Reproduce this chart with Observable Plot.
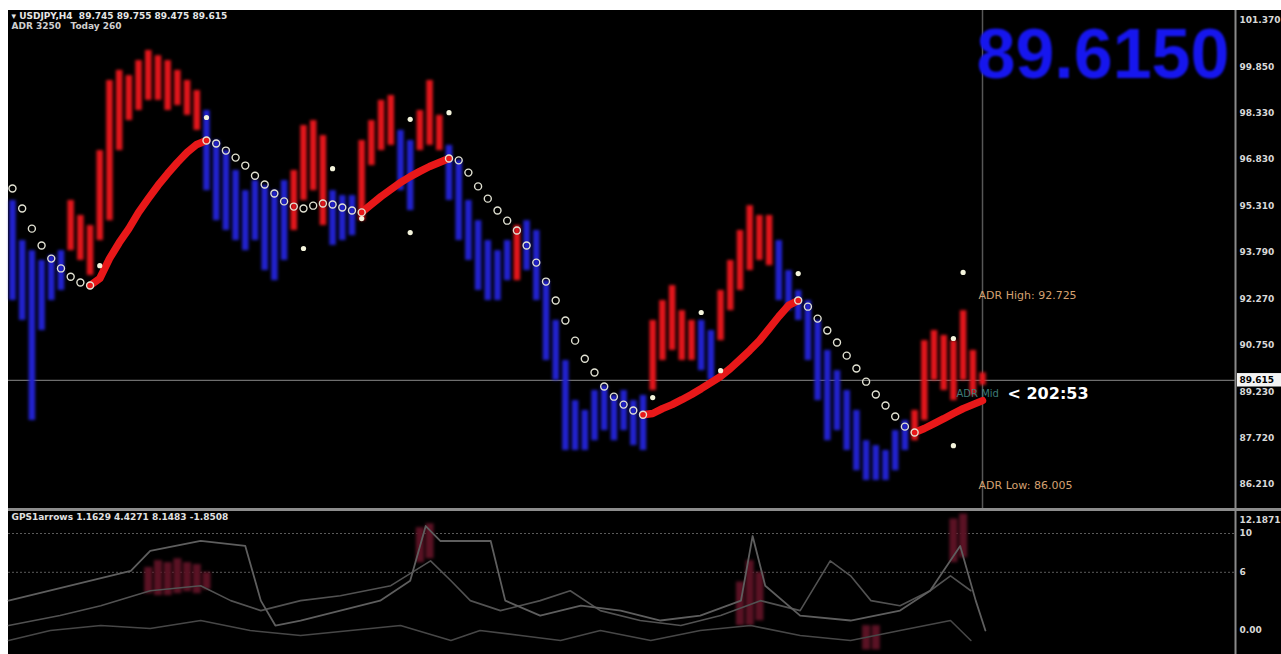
<!DOCTYPE html>
<html>
<head>
<meta charset="utf-8">
<script src="https://cdn.jsdelivr.net/npm/d3@7"></script>
<script src="https://cdn.jsdelivr.net/npm/@observablehq/plot@0.6"></script>
<style>
html,body{margin:0;padding:0;background:#fff;overflow:hidden;width:1281px;height:654px}
#wrap{position:absolute;left:8px;top:10px;width:1273px;height:644px;background:#000}
#sep{height:3px;background:#8c8c8c}
svg{display:block}
</style>
</head>
<body>
<div id="wrap"></div>
<script>
// ---------- price panel data (USDJPY H4) ----------
const barHigh = [95.49,94.18,93.85,93.53,93.69,93.85,95.49,95.00,94.67,97.12,
  99.41,99.74,99.57,100.06,100.39,100.22,100.06,99.74,99.41,99.08,
  98.43,97.45,97.12,96.47,95.81,96.14,95.98,95.81,96.14,96.47,
  97.94,98.10,97.61,95.81,95.65,95.65,97.45,98.10,98.76,98.92,
  97.78,97.45,98.43,99.41,98.27,97.29,96.80,95.49,94.83,94.18,
  93.85,94.18,94.67,94.83,94.51,92.87,91.57,90.26,88.95,88.63,
  89.28,89.44,89.12,89.28,88.95,89.12,91.57,92.22,92.71,91.89,
  91.57,91.57,91.24,92.55,93.53,94.51,95.32,95.00,95.00,94.18,
  93.20,92.55,92.22,91.57,90.59,89.93,89.28,88.63,87.64,87.48,
  87.32,87.97,88.30,88.63,90.91,91.24,91.08,90.91,91.89,90.59,
  89.86];
const barLow = [92.22,91.57,88.30,91.24,92.22,92.55,93.85,93.53,93.04,94.18,
  94.83,97.12,98.10,98.43,98.76,98.76,98.43,98.59,98.27,97.78,
  95.81,94.83,94.51,94.18,93.85,94.18,93.20,92.87,93.53,94.51,
  95.49,95.81,94.67,94.02,94.18,94.34,94.83,96.63,97.12,97.29,
  95.81,95.16,97.12,97.29,97.12,95.49,94.18,93.53,92.55,92.22,
  92.22,92.87,92.87,93.20,92.22,90.26,89.61,87.32,87.32,87.32,
  87.64,87.97,87.64,87.97,87.48,87.32,89.28,90.26,90.59,90.26,
  90.26,89.93,89.61,90.91,91.89,92.55,93.20,93.53,93.36,92.22,
  91.89,91.57,90.26,88.95,87.64,87.97,87.32,86.66,86.34,86.34,
  86.34,86.66,87.32,87.64,88.30,89.61,89.28,88.95,89.61,89.12,
  89.45];
// 1 = up (red) bar, 0 = down (blue) bar
const barUp = [0,0,0,0,0,0,1,1,1,1, 1,1,1,1,1,1,1,1,1,1,
  0,0,0,0,0,0,0,0,0,1, 1,1,1,0,0,0,1,1,1,1,
  0,0,1,1,1,0,0,0,0,0, 0,0,1,0,0,0,0,0,0,0,
  0,0,0,0,0,0,1,1,1,1, 1,0,0,1,1,1,1,1,1,0,
  0,0,0,0,0,0,0,0,0,0, 0,0,0,1,1,1,1,1,1,1, 1];
const maValue = [95.88,95.23,94.57,94.02,93.59,93.27,93.00,92.81,92.71,92.94,
  93.59,94.11,94.57,95.10,95.55,95.98,96.37,96.73,97.06,97.32,
  97.45,97.35,97.12,96.89,96.63,96.30,96.01,95.72,95.46,95.29,
  95.23,95.32,95.39,95.36,95.26,95.16,95.10,95.36,95.62,95.85,
  96.08,96.27,96.44,96.60,96.73,96.86,96.80,96.40,95.95,95.55,
  95.16,94.83,94.51,94.02,93.46,92.84,92.22,91.57,90.91,90.32,
  89.87,89.41,89.08,88.82,88.63,88.49,88.53,88.69,88.82,88.98,
  89.15,89.34,89.54,89.74,90.00,90.29,90.59,90.91,91.30,91.70,
  92.06,92.22,92.02,91.63,91.24,90.85,90.42,90.00,89.57,89.15,
  88.79,88.43,88.10,87.91,88.04,88.20,88.36,88.53,88.69,88.82,88.95];
const trendTurns = [8, 20, 36, 45, 65, 81, 93]; // first trend is down
const signalIndex = [9, 20, 30, 33, 36, 41, 41, 45, 66, 71, 73, 81, 97, 97, 98];
const signalPrice = [93.36, 98.20, 93.92, 96.53, 94.90, 98.14, 94.44, 98.36, 89.05, 91.83, 89.93, 93.10, 90.98, 87.48, 93.14];
const priceTicks = [101.37, 99.85, 98.33, 96.83, 95.31, 93.79, 92.27, 90.75, 89.23, 87.72, 86.21];
const lastPrice = 89.615;
const adrHigh = 92.725, adrLow = 86.005, adrMid = 89.365;
const countdown = "202:53";
const header1 = "▾ USDJPY,H4  89.745 89.755 89.475 89.615";
const header2 = "ADR 3250   Today 260";

// ---------- indicator panel data ----------
const indTitle = "GPS1arrows 1.1629 4.4271 8.1483 -1.8508";
const indMax = 12.1871;
const indTicks = [10, 6, 0];
const s1X = [-0.4,12.2,14.2,19.4,24.0,25.6,27.1,29.7,33.8,37.9,41.0,42.6,44.1,49.3,50.8,54.4,58.6,62.7,66.8,70.9,75.1,76.3,77.6,81.2,86.4,91.5,94.6,97.7,99.3,100.3];
const s1V = [3.08,6.15,8.21,9.23,8.72,3.08,0.51,1.03,2.05,3.08,5.13,10.77,9.23,9.23,3.08,1.54,2.56,2.05,1.03,1.54,3.08,9.74,4.62,1.54,1.03,2.05,4.10,8.72,3.08,0];
const s2X = [-0.4,4.9,9.1,14.2,19.4,22.5,25.6,29.7,33.8,39.0,43.1,45.2,47.2,50.3,54.4,57.5,60.6,64.7,68.9,73.0,77.1,81.2,84.3,86.4,88.5,91.5,94.6,96.7,98.8];
const s2V = [0.51,1.54,2.56,4.10,4.62,3.08,2.05,3.08,3.59,4.62,7.18,5.13,3.08,2.05,3.08,4.10,2.05,1.03,0.51,1.54,3.08,2.05,7.18,5.64,3.08,2.56,4.10,5.64,4.10];
const s3X = [-0.4,3.9,9.1,14.2,19.4,24.5,29.7,40.0,45.2,48.2,52.4,56.5,60.6,65.8,70.9,76.1,81.2,86.4,91.5,96.7,98.8];
const s3V = [-1.03,0,0.51,0.21,1.03,0,-0.51,0.51,-1.03,0,-0.51,-1.03,0,-1.03,0,0.51,-0.51,-1.03,0,1.03,-1.03];
const histX  = [14, 15, 16, 17, 18, 19, 20, 42, 43, 75, 76, 77, 88, 89, 97, 98];
const histLo = [3.8,3.6,3.6,3.8,4.0,3.8,4.2,7.0,7.4,0.5,0.5,1.0,-2.0,-2.0,7.0,7.5];
const histHi = [6.5,7.2,7.0,7.4,7.0,6.8,6.0,10.6,11.0,5.0,7.2,6.0,0.5,0.5,11.5,12.0];

// ---------- derived tables ----------
const lastIndex = barHigh.length - 1;
const xMax = 126.08;
const bars = barHigh.map((h, i) => ({i, high: h, low: barLow[i], up: barUp[i] === 1}));
const bounds = [0, ...trendTurns, lastIndex];
const maUpPts = [], maDownPts = [];
for (let s = 0; s < bounds.length - 1; s++) {
  const up = s % 2 === 1;
  for (let i = bounds[s]; i <= bounds[s + 1]; i++) {
    (up ? maUpPts : maDownPts).push({i, v: maValue[i], seg: s});
  }
}
const signals = signalIndex.map((i, k) => ({i, p: signalPrice[k]}));
const s1 = s1X.map((x, k) => ({x, v: s1V[k]}));
const s2 = s2X.map((x, k) => ({x, v: s2V[k]}));
const s3 = s3X.map((x, k) => ({x, v: s3V[k]}));
const hist = histX.map((x, k) => ({x, lo: histLo[k], hi: histHi[k]}));

const baseStyle = {background: "#000", color: "#d8d8d8", fontFamily: "DejaVu Sans", fontSize: "9px", fontWeight: "bold", overflow: "visible"};

const BLUE = "#2222cf", RED = "#e3161c", MARED = "#e81819", CIRC = "#e2e2d3", HIST = "#5a1224";

const main = Plot.plot({
  width: 1273, height: 498,
  marginLeft: 0, marginRight: 46, marginTop: 0, marginBottom: 0,
  style: baseStyle,
  x: {domain: [-0.41, xMax], range: [0, 1227], axis: null},
  y: {domain: [86.21, 101.37], range: [474, 10], axis: "right", ticks: priceTicks,
      tickFormat: d => d.toFixed(3), tickSize: 0, tickPadding: 4, label: null},
  marks: [
    Plot.ruleX([xMax], {stroke: "#8a8a8a", strokeWidth: 2}),
    Plot.ruleY([lastPrice], {stroke: "#6e6e6e", strokeWidth: 1.2}),
    Plot.ruleX([lastIndex], {stroke: "#565656", strokeWidth: 1.5}),
    Plot.ruleX(bars.filter(d => !d.up), {x: "i", y1: "low", y2: "high", stroke: BLUE, strokeWidth: 6.5}),
    Plot.ruleX(bars.filter(d => d.up), {x: "i", y1: "low", y2: "high", stroke: RED, strokeWidth: 6.5}),
    Plot.line(maUpPts, {x: "i", y: "v", z: "seg", stroke: MARED, strokeWidth: 7.5, strokeLinecap: "round"}),
    Plot.dot(maDownPts, {x: "i", y: "v", r: 3.5, stroke: CIRC, strokeWidth: 1.4}),
    Plot.dot(signals, {x: "i", y: "p", r: 2.6, fill: "#f4f4dc"}),
    Plot.text([header1], {frameAnchor: "top-left", dx: 3, dy: 2, text: d => d, fontSize: 9, fill: "#e6e6e6", textAnchor: "start", lineAnchor: "top"}),
    Plot.text([header2], {frameAnchor: "top-left", dx: 3, dy: 12, text: d => d, fontSize: 9, fill: "#cfcfcf", textAnchor: "start", lineAnchor: "top"}),
    Plot.text([lastPrice], {frameAnchor: "top-right", dx: -6, dy: 45, text: d => d.toFixed(4), fontFamily: "Liberation Sans", fontWeight: "bold", fontSize: 70, fill: "#1616ee", textAnchor: "end", lineAnchor: "middle"}),
    Plot.text([adrHigh], {x: () => lastIndex, y: d => d, dx: -4, dy: 10, text: d => "ADR High: " + d.toFixed(3), textAnchor: "start", fill: "#d4a070", fontSize: 11, fontWeight: "normal"}),
    Plot.text([adrLow], {x: () => lastIndex, y: d => d, dx: -4, dy: -5, text: d => "ADR Low: " + d.toFixed(3), textAnchor: "start", fill: "#d4a070", fontSize: 11, fontWeight: "normal"}),
    Plot.text([adrMid], {x: () => lastIndex, y: d => d, dx: -26, dy: 6, text: () => "ADR Mid", textAnchor: "start", fill: "#3d7a76", fontSize: 10, fontWeight: "normal"}),
    Plot.text([countdown], {x: () => lastIndex, y: () => adrMid, dx: 25, dy: 6, text: d => "< " + d, textAnchor: "start", fill: "#fff", fontSize: 16, fontWeight: "bold"}),
    Plot.rect([lastPrice], {x1: () => xMax + 0.2, x2: () => xMax + 4.8, y1: d => d - 0.22, y2: d => d + 0.22, fill: "#f4f4f4"}),
    Plot.text([lastPrice], {x: () => xMax + 0.4, y: d => d, text: d => d.toFixed(3), textAnchor: "start", fill: "#000", fontSize: 9})
  ]
});

const ind = Plot.plot({
  width: 1273, height: 143,
  marginLeft: 0, marginRight: 46, marginTop: 0, marginBottom: 0,
  style: baseStyle,
  x: {domain: [-0.41, xMax], range: [0, 1227], axis: null},
  y: {domain: [0, indMax], range: [119, 0.8], axis: "right", ticks: indTicks,
      tickFormat: d => d === 0 ? "0.00" : String(d), tickSize: 0, tickPadding: 4, label: null},
  marks: [
    Plot.ruleX([xMax], {stroke: "#8a8a8a", strokeWidth: 2}),
    Plot.ruleY([10, 6], {stroke: "#5a5a5a", strokeDasharray: "2,2"}),
    Plot.ruleX(hist, {x: "x", y1: "lo", y2: "hi", stroke: HIST, strokeWidth: 8}),
    Plot.line(s3, {x: "x", y: "v", stroke: "#474747", strokeWidth: 1.6}),
    Plot.line(s2, {x: "x", y: "v", stroke: "#525252", strokeWidth: 1.6}),
    Plot.line(s1, {x: "x", y: "v", stroke: "#5e5e5e", strokeWidth: 1.8}),
    Plot.text([indTitle], {frameAnchor: "top-left", dx: 3, dy: 2, text: d => d, fontSize: 9, fill: "#e0e0e0", textAnchor: "start", lineAnchor: "top"}),
    Plot.text([indMax], {frameAnchor: "top-right", dx: 4, dy: 5, text: d => String(d), fontSize: 9, fill: "#d8d8d8", textAnchor: "start", lineAnchor: "top"})
  ]
});

const wrap = document.getElementById("wrap");
wrap.appendChild(main);
const sep = document.createElement("div"); sep.id = "sep"; wrap.appendChild(sep);
wrap.appendChild(ind);

// soften marks like the blurry source picture
function soften(svg, color, px) {
  d3.select(svg).selectAll("g").filter(function () {
    return this.getAttribute("stroke") === color || this.getAttribute("fill") === color;
  }).style("filter", `blur(${px}px)`);
}
soften(main, BLUE, 1.4);
soften(main, RED, 1.4);
soften(main, MARED, 0.7);
soften(main, CIRC, 0.4);
soften(main, "#1616ee", 0.9);
soften(ind, HIST, 1.5);
soften(ind, "#474747", 0.6);
soften(ind, "#525252", 0.6);
soften(ind, "#5e5e5e", 0.6);
</script>
</body>
</html>
